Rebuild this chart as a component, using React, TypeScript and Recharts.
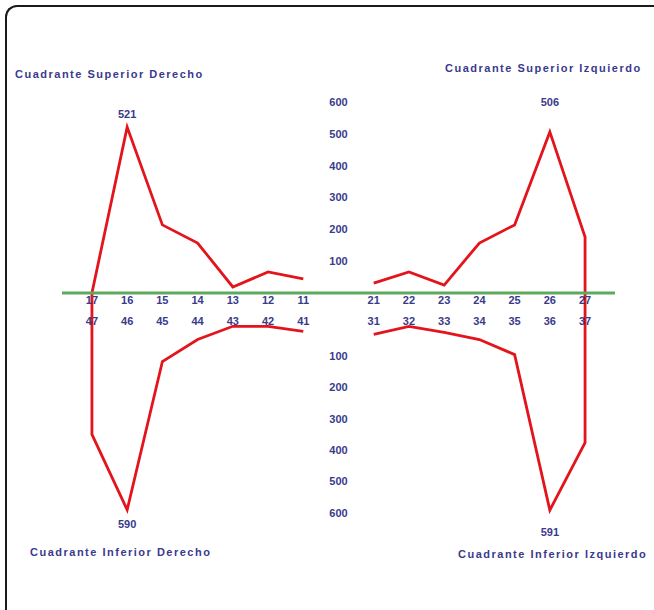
import { LineChart, Line, XAxis, YAxis, ReferenceDot } from "recharts";

// tooth numbers, right side of the mouth first (drawn on the left), gap in the middle
const upperRightTeeth = ["17", "16", "15", "14", "13", "12", "11"];
const upperLeftTeeth = ["21", "22", "23", "24", "25", "26", "27"];
const lowerRightTeeth = ["47", "46", "45", "44", "43", "42", "41"];
const lowerLeftTeeth = ["31", "32", "33", "34", "35", "36", "37"];

const upperRightValues = [0, 521, 214, 157, 19, 66, 44];
const upperLeftValues = [31, 66, 25, 157, 214, 506, 176];
const lowerRightValues = [350, 590, 118, 48, 6, 6, 22];
const lowerLeftValues = [32, 6, 25, 48, 96, 591, 376];

const scaleTicks = [100, 200, 300, 400, 500, 600];

const NAVY = "#3a3a8c";
const RED = "#e3141b";
const GREEN = "#5ea95e";
const MID = 7; // empty slot between quadrants, holds the scale
const LOWER_GAP = 100; // lower axis starts this far under the green line

const W = 654;
const H = 610;
const xDomain: [number, number] = [-0.85, 14.85];
const xTicks = [0, 1, 2, 3, 4, 5, 6, 8, 9, 10, 11, 12, 13, 14];

const upperLabels = [...upperRightTeeth, "", ...upperLeftTeeth];
const lowerLabels = [...lowerRightTeeth, "", ...lowerLeftTeeth];

const upperRight = upperRightTeeth.map((_, i) => ({ pos: i, v: upperRightValues[i] }));
const upperLeft = [
    ...upperLeftTeeth.map((_, i) => ({ pos: MID + 1 + i, v: upperLeftValues[i] })),
    { pos: 14, v: 0 }, // back down to the green line
];
const lowerRight = [
    { pos: 0, v: -LOWER_GAP }, // joins the green line
    ...lowerRightTeeth.map((_, i) => ({ pos: i, v: lowerRightValues[i] })),
];
const lowerLeft = [
    ...lowerLeftTeeth.map((_, i) => ({ pos: MID + 1 + i, v: lowerLeftValues[i] })),
    { pos: 14, v: -LOWER_GAP },
];

const textStyle = { fill: NAVY, fontSize: 11, fontWeight: 700 };

const ToothTick = (props: any) => {
    const { x, y, payload } = props;
    const i = payload.value;
    return (
        <g>
            <text x={x} y={y} dy={11} textAnchor="middle" {...textStyle}>
                {upperLabels[i]}
            </text>
            <text x={x} y={y} dy={32} textAnchor="middle" {...textStyle}>
                {lowerLabels[i]}
            </text>
        </g>
    );
};

// only the extreme value of each quadrant gets a number
const peakLabel = (peak: number, dy: number) => (props: any) => {
    if (props.value !== peak) return null;
    return (
        <text key={`peak-${peak}`} x={props.x} y={props.y + dy} textAnchor="middle" {...textStyle}>
            {peak}
        </text>
    );
};

const titleStyle = (left: number, top: number): React.CSSProperties => ({
    position: "absolute",
    left,
    top,
    color: NAVY,
    fontSize: 11,
    fontWeight: 700,
    whiteSpace: "nowrap",
    letterSpacing: 1.5,
});

export default function App() {
    return (
        <div
            style={{
                position: "absolute",
                left: 0,
                top: 0,
                width: W,
                height: H,
                overflow: "hidden",
                background: "#fff",
                fontFamily: "'Liberation Sans', Arial, sans-serif",
            }}
        >
            <div
                style={{
                    position: "absolute",
                    left: 5,
                    top: 5,
                    width: 720,
                    height: 700,
                    borderTop: "2px solid #1a1a1a",
                    borderLeft: "2px solid #1a1a1a",
                    borderTopLeftRadius: 12,
                }}
            />

            <div style={titleStyle(15, 68)}>Cuadrante Superior Derecho</div>
            <div style={titleStyle(445, 62)}>Cuadrante Superior Izquierdo</div>
            <div style={titleStyle(30, 546)}>Cuadrante Inferior Derecho</div>
            <div style={titleStyle(458, 548)}>Cuadrante Inferior Izquierdo</div>

            {/* lower half, value axis pointing down */}
            <div style={{ position: "absolute", left: 0, top: 0 }}>
                <LineChart width={W} height={H} margin={{ top: 293, right: 39, bottom: 97, left: 62 }}>
                    <XAxis type="number" dataKey="pos" domain={xDomain} hide allowDataOverflow />
                    <YAxis type="number" dataKey="v" domain={[-LOWER_GAP, 600]} reversed hide />
                    {scaleTicks.map((t) => (
                        <ReferenceDot
                            key={t}
                            x={MID}
                            y={t}
                            r={0}
                            fill="none"
                            stroke="none"
                            label={{ value: String(t), position: "center", ...textStyle }}
                        />
                    ))}
                    <Line
                        data={lowerRight}
                        dataKey="v"
                        stroke={RED}
                        strokeWidth={2.8}
                        dot={false}
                        label={peakLabel(590, 18)}
                        isAnimationActive={false}
                    />
                    <Line
                        data={lowerLeft}
                        dataKey="v"
                        stroke={RED}
                        strokeWidth={2.8}
                        dot={false}
                        label={peakLabel(591, 26)}
                        isAnimationActive={false}
                    />
                </LineChart>
            </div>

            {/* upper half, its x axis is the green line and carries both rows of tooth numbers */}
            <div style={{ position: "absolute", left: 0, top: 0 }}>
                <LineChart width={W} height={330} margin={{ top: 102, right: 39, bottom: 0, left: 62 }}>
                    <XAxis
                        type="number"
                        dataKey="pos"
                        domain={xDomain}
                        ticks={xTicks}
                        interval={0}
                        height={37}
                        tickSize={0}
                        tickMargin={0}
                        tickLine={false}
                        axisLine={{ stroke: GREEN, strokeWidth: 3 }}
                        tick={<ToothTick />}
                        allowDataOverflow
                    />
                    <YAxis type="number" dataKey="v" domain={[0, 600]} hide />
                    {scaleTicks.map((t) => (
                        <ReferenceDot
                            key={t}
                            x={MID}
                            y={t}
                            r={0}
                            fill="none"
                            stroke="none"
                            label={{ value: String(t), position: "center", ...textStyle }}
                        />
                    ))}
                    <Line
                        data={upperRight}
                        dataKey="v"
                        stroke={RED}
                        strokeWidth={2.8}
                        dot={false}
                        label={peakLabel(521, -9)}
                        isAnimationActive={false}
                    />
                    <Line
                        data={upperLeft}
                        dataKey="v"
                        stroke={RED}
                        strokeWidth={2.8}
                        dot={false}
                        label={peakLabel(506, -26)}
                        isAnimationActive={false}
                    />
                </LineChart>
            </div>
        </div>
    );
}
